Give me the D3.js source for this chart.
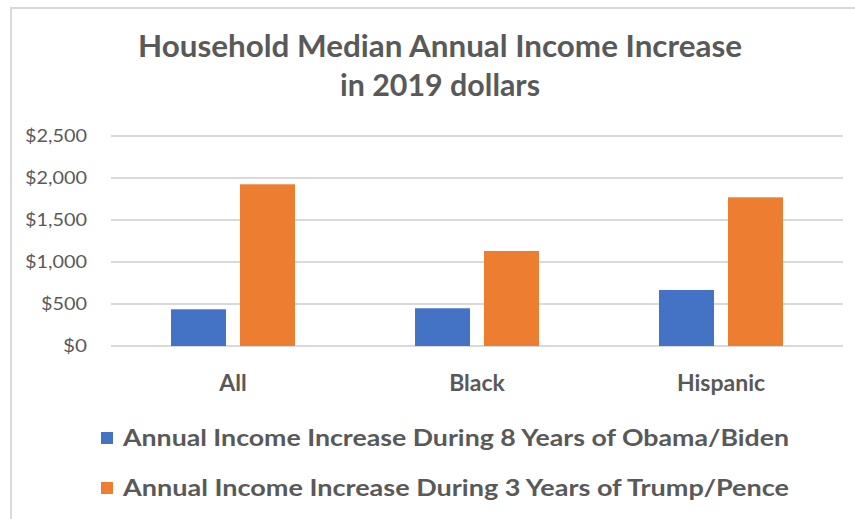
<!DOCTYPE html>
<meta charset="utf-8">
<style>
body { margin: 0; background: #fff; }
text { fill: #595959; font-family: Lato, "Open Sans", sans-serif; }
.grid line { stroke: #d9d9d9; stroke-width: 2px; }
</style>
<body>
<script src="https://d3js.org/d3.v7.min.js"></script>
<script>

// data
var categories = ["All", "Black", "Hispanic"];
var seriesNames = [
  "Annual Income Increase During 8 Years of Obama/Biden",
  "Annual Income Increase During 3 Years of Trump/Pence"
];
var obamaValues = [437, 449, 667];
var trumpValues = [1925, 1131, 1770];
var yTicks = [0, 500, 1000, 1500, 2000, 2500];
var titleLines = ["Household Median Annual Income Increase", "in 2019 dollars"];
var colors = ["#4472C4", "#ED7D31"];

var width = 855, height = 519;
var plot = {left: 111, right: 843, top: 136, bottom: 346};

var svg = d3.select("body").append("svg")
    .attr("width", width)
    .attr("height", height);

// chart border (only top/left visible in the crop)
svg.append("rect")
    .attr("x", 11).attr("y", 8)
    .attr("width", 900).attr("height", 600)
    .attr("fill", "none")
    .attr("stroke", "#d9d9d9")
    .attr("stroke-width", 2);

// scales
var x0 = d3.scaleBand()
    .domain(categories)
    .range([plot.left, plot.right]);

var x1 = d3.scaleBand()
    .domain([0, 1])
    .range([0, 124])
    .paddingInner(0.203);

var y = d3.scaleLinear()
    .domain([0, 2500])
    .range([plot.bottom, plot.top]);

// gridlines
svg.append("g")
    .attr("class", "grid")
    .selectAll("line")
    .data(yTicks)
  .enter().append("line")
    .attr("x1", plot.left).attr("x2", plot.right)
    .attr("y1", function(d) { return y(d); })
    .attr("y2", function(d) { return y(d); });

// y axis labels
var fmt = d3.format(",");
svg.append("g")
    .selectAll("text")
    .data(yTicks)
  .enter().append("text")
    .attr("x", 87)
    .attr("y", function(d) { return y(d); })
    .attr("dy", "0.35em")
    .attr("text-anchor", "end")
    .attr("textLength", function(d) { return d >= 1000 ? 62 : (d > 0 ? 46 : 24); })
    .attr("lengthAdjust", "spacingAndGlyphs")
    .style("font-size", "18px")
    .text(function(d) { return "$" + fmt(d); });

// bars
var rows = categories.map(function(c, i) {
  return {cat: c, values: [obamaValues[i], trumpValues[i]]};
});

var groups = svg.append("g")
    .selectAll("g")
    .data(rows)
  .enter().append("g")
    .attr("transform", function(d) {
      return "translate(" + (x0(d.cat) + x0.bandwidth() / 2 - 62) + ",0)";
    });

groups.selectAll("rect")
    .data(function(d) { return d.values; })
  .enter().append("rect")
    .attr("x", function(d, i) { return x1(i); })
    .attr("width", x1.bandwidth())
    .attr("y", function(d) { return y(d); })
    .attr("height", function(d) { return y(0) - y(d); })
    .attr("fill", function(d, i) { return colors[i]; });

// category labels
svg.append("g")
    .selectAll("text")
    .data(categories)
  .enter().append("text")
    .attr("x", function(d) { return x0(d) + x0.bandwidth() / 2; })
    .attr("y", 391)
    .attr("text-anchor", "middle")
    .style("font-size", "23px")
    .style("font-weight", "bold")
    .text(function(d) { return d; });

// title
svg.selectAll(".title")
    .data(titleLines)
  .enter().append("text")
    .attr("class", "title")
    .attr("x", 440)
    .attr("y", function(d, i) { return 57 + i * 39; })
    .attr("text-anchor", "middle")
    .attr("textLength", function(d, i) { return i === 0 ? 604 : 200; })
    .attr("lengthAdjust", "spacingAndGlyphs")
    .style("font-size", "30px")
    .style("font-weight", "bold")
    .text(function(d) { return d; });

// legend
var legend = svg.append("g")
    .selectAll("g")
    .data(seriesNames)
  .enter().append("g")
    .attr("transform", function(d, i) { return "translate(101," + (438 + i * 50) + ")"; });

legend.append("rect")
    .attr("x", 0).attr("y", -6)
    .attr("width", 12).attr("height", 12)
    .attr("fill", function(d, i) { return colors[i]; });

legend.append("text")
    .attr("x", 22)
    .attr("y", 0)
    .attr("dy", "0.35em")
    .attr("textLength", 666)
    .attr("lengthAdjust", "spacingAndGlyphs")
    .style("font-size", "23px")
    .style("font-weight", "bold")
    .text(function(d) { return d; });

</script>
</body>
